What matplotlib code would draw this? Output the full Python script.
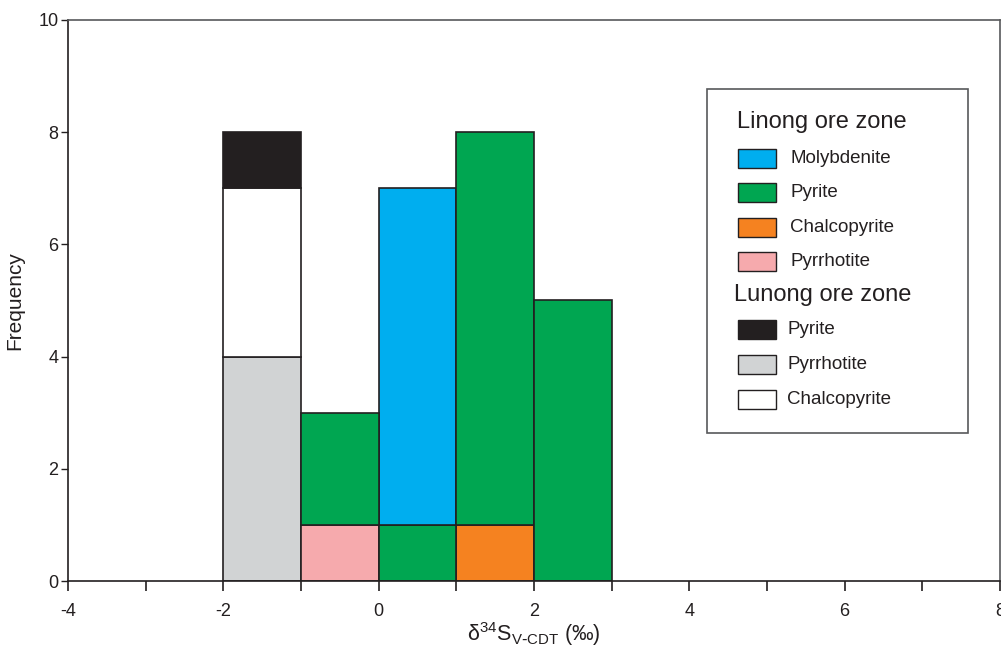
import numpy as np
import matplotlib
matplotlib.use('Agg')
import matplotlib.pyplot as plt
from matplotlib.patches import Rectangle

plt.rcParams['font.family'] = ['Liberation Sans', 'DejaVu Sans']
plt.rcParams['axes.unicode_minus'] = False

# bin left edges (width 1 permil)
bins = [-2, -1, 0, 1, 2]

# Linong ore zone counts per bin
li_pyrrhotite = [0, 1, 0, 0, 0]
li_chalcopyrite = [0, 0, 0, 1, 0]
li_pyrite = [0, 2, 1, 7, 5]
li_molybdenite = [0, 0, 6, 0, 0]
# Lunong ore zone counts per bin
lu_pyrrhotite = [4, 0, 0, 0, 0]
lu_chalcopyrite = [3, 0, 0, 0, 0]
lu_pyrite = [1, 0, 0, 0, 0]

c_blue = '#00aeef'
c_green = '#00a651'
c_orange = '#f58220'
c_pink = '#f6aaad'
c_black = '#231f20'
c_gray = '#d1d3d4'
c_white = '#ffffff'

fig = plt.figure(figsize=(10.01, 6.51), dpi=100)
ax = fig.add_axes([0.068, 0.1075, 0.931, 0.862])

x = np.array(bins, dtype=float)
bottom = np.zeros(len(bins))

def stack(vals, color):
	global bottom
	v = np.array(vals, dtype=float)
	m = v > 0
	ax.bar(x[m], v[m], width=1, bottom=bottom[m], align='edge',
		color=color, edgecolor='#231f20', linewidth=1.2)
	bottom = bottom + v

stack(lu_pyrrhotite, c_gray)
stack(li_pyrrhotite, c_pink)
stack(li_chalcopyrite, c_orange)
# the green pyrite in bin 0 sits under molybdenite
py_low = [0, 0, 1, 0, 0]
py_rest = [a - b for a, b in zip(li_pyrite, py_low)]
stack(py_low, c_green)
stack(li_molybdenite, c_blue)
stack(py_rest, c_green)
stack(lu_chalcopyrite, c_white)
stack(lu_pyrite, c_black)

ax.set_xlim(-4, 8)
ax.set_ylim(0, 10)
ax.set_xticks([-4, -2, 0, 2, 4, 6, 8])
ax.set_xticks([-3, -1, 1, 3, 5, 7], minor=True)
ax.set_yticks([0, 2, 4, 6, 8, 10])
ax.tick_params(axis='x', which='both', direction='out', length=7, width=1.2,
	labelsize=13, pad=9, colors='#231f20')
ax.tick_params(axis='y', direction='out', length=5, width=1, labelsize=13,
	pad=2, colors='#231f20')
for s in ['left', 'bottom']:
	ax.spines[s].set_color('#231f20')
	ax.spines[s].set_linewidth(1.2)
for s in ['top', 'right']:
	ax.spines[s].set_color('#58595b')
	ax.spines[s].set_linewidth(1.2)

ax.set_ylabel('Frequency', fontsize=15, labelpad=10, color='#231f20')
ax.set_xlabel(r'$\mathregular{\delta^{34}S_{V\text{-}CDT}}$ (‰)', fontsize=15.5, labelpad=0,
	color='#231f20')

# legend drawn by hand to match the two-group layout
tr = ax.transAxes
ax.add_patch(Rectangle((0.686, 0.263), 0.28, 0.614, transform=tr, fill=False,
	edgecolor='#58595b', linewidth=1.2, zorder=5))

def ax_x(px):
	return (px - 68) / 932.0

def ax_y(py):
	return (581 - py) / 561.0

ax.text(ax_x(737), ax_y(122), 'Linong ore zone', transform=tr, fontsize=17,
	va='center', ha='left', color='#231f20')
ax.text(ax_x(734), ax_y(295), 'Lunong ore zone', transform=tr, fontsize=17,
	va='center', ha='left', color='#231f20')

entries = [
	('Molybdenite', c_blue, 159, 790),
	('Pyrite', c_green, 193, 790),
	('Chalcopyrite', c_orange, 228, 790),
	('Pyrrhotite', c_pink, 262, 790),
	('Pyrite', c_black, 330, 787),
	('Pyrrhotite', c_gray, 365, 787),
	('Chalcopyrite', c_white, 400, 787),
]
w = 38 / 932.0
h = 19 / 561.0
for lab, col, py, tx in entries:
	ax.add_patch(Rectangle((ax_x(738), ax_y(py) - h / 2), w, h, transform=tr,
		facecolor=col, edgecolor='#231f20', linewidth=1.0, zorder=5))
	ax.text(ax_x(tx), ax_y(py), lab, transform=tr, fontsize=13.5, va='center',
		ha='left', color='#231f20')

fig.savefig('out.png', dpi=100)
